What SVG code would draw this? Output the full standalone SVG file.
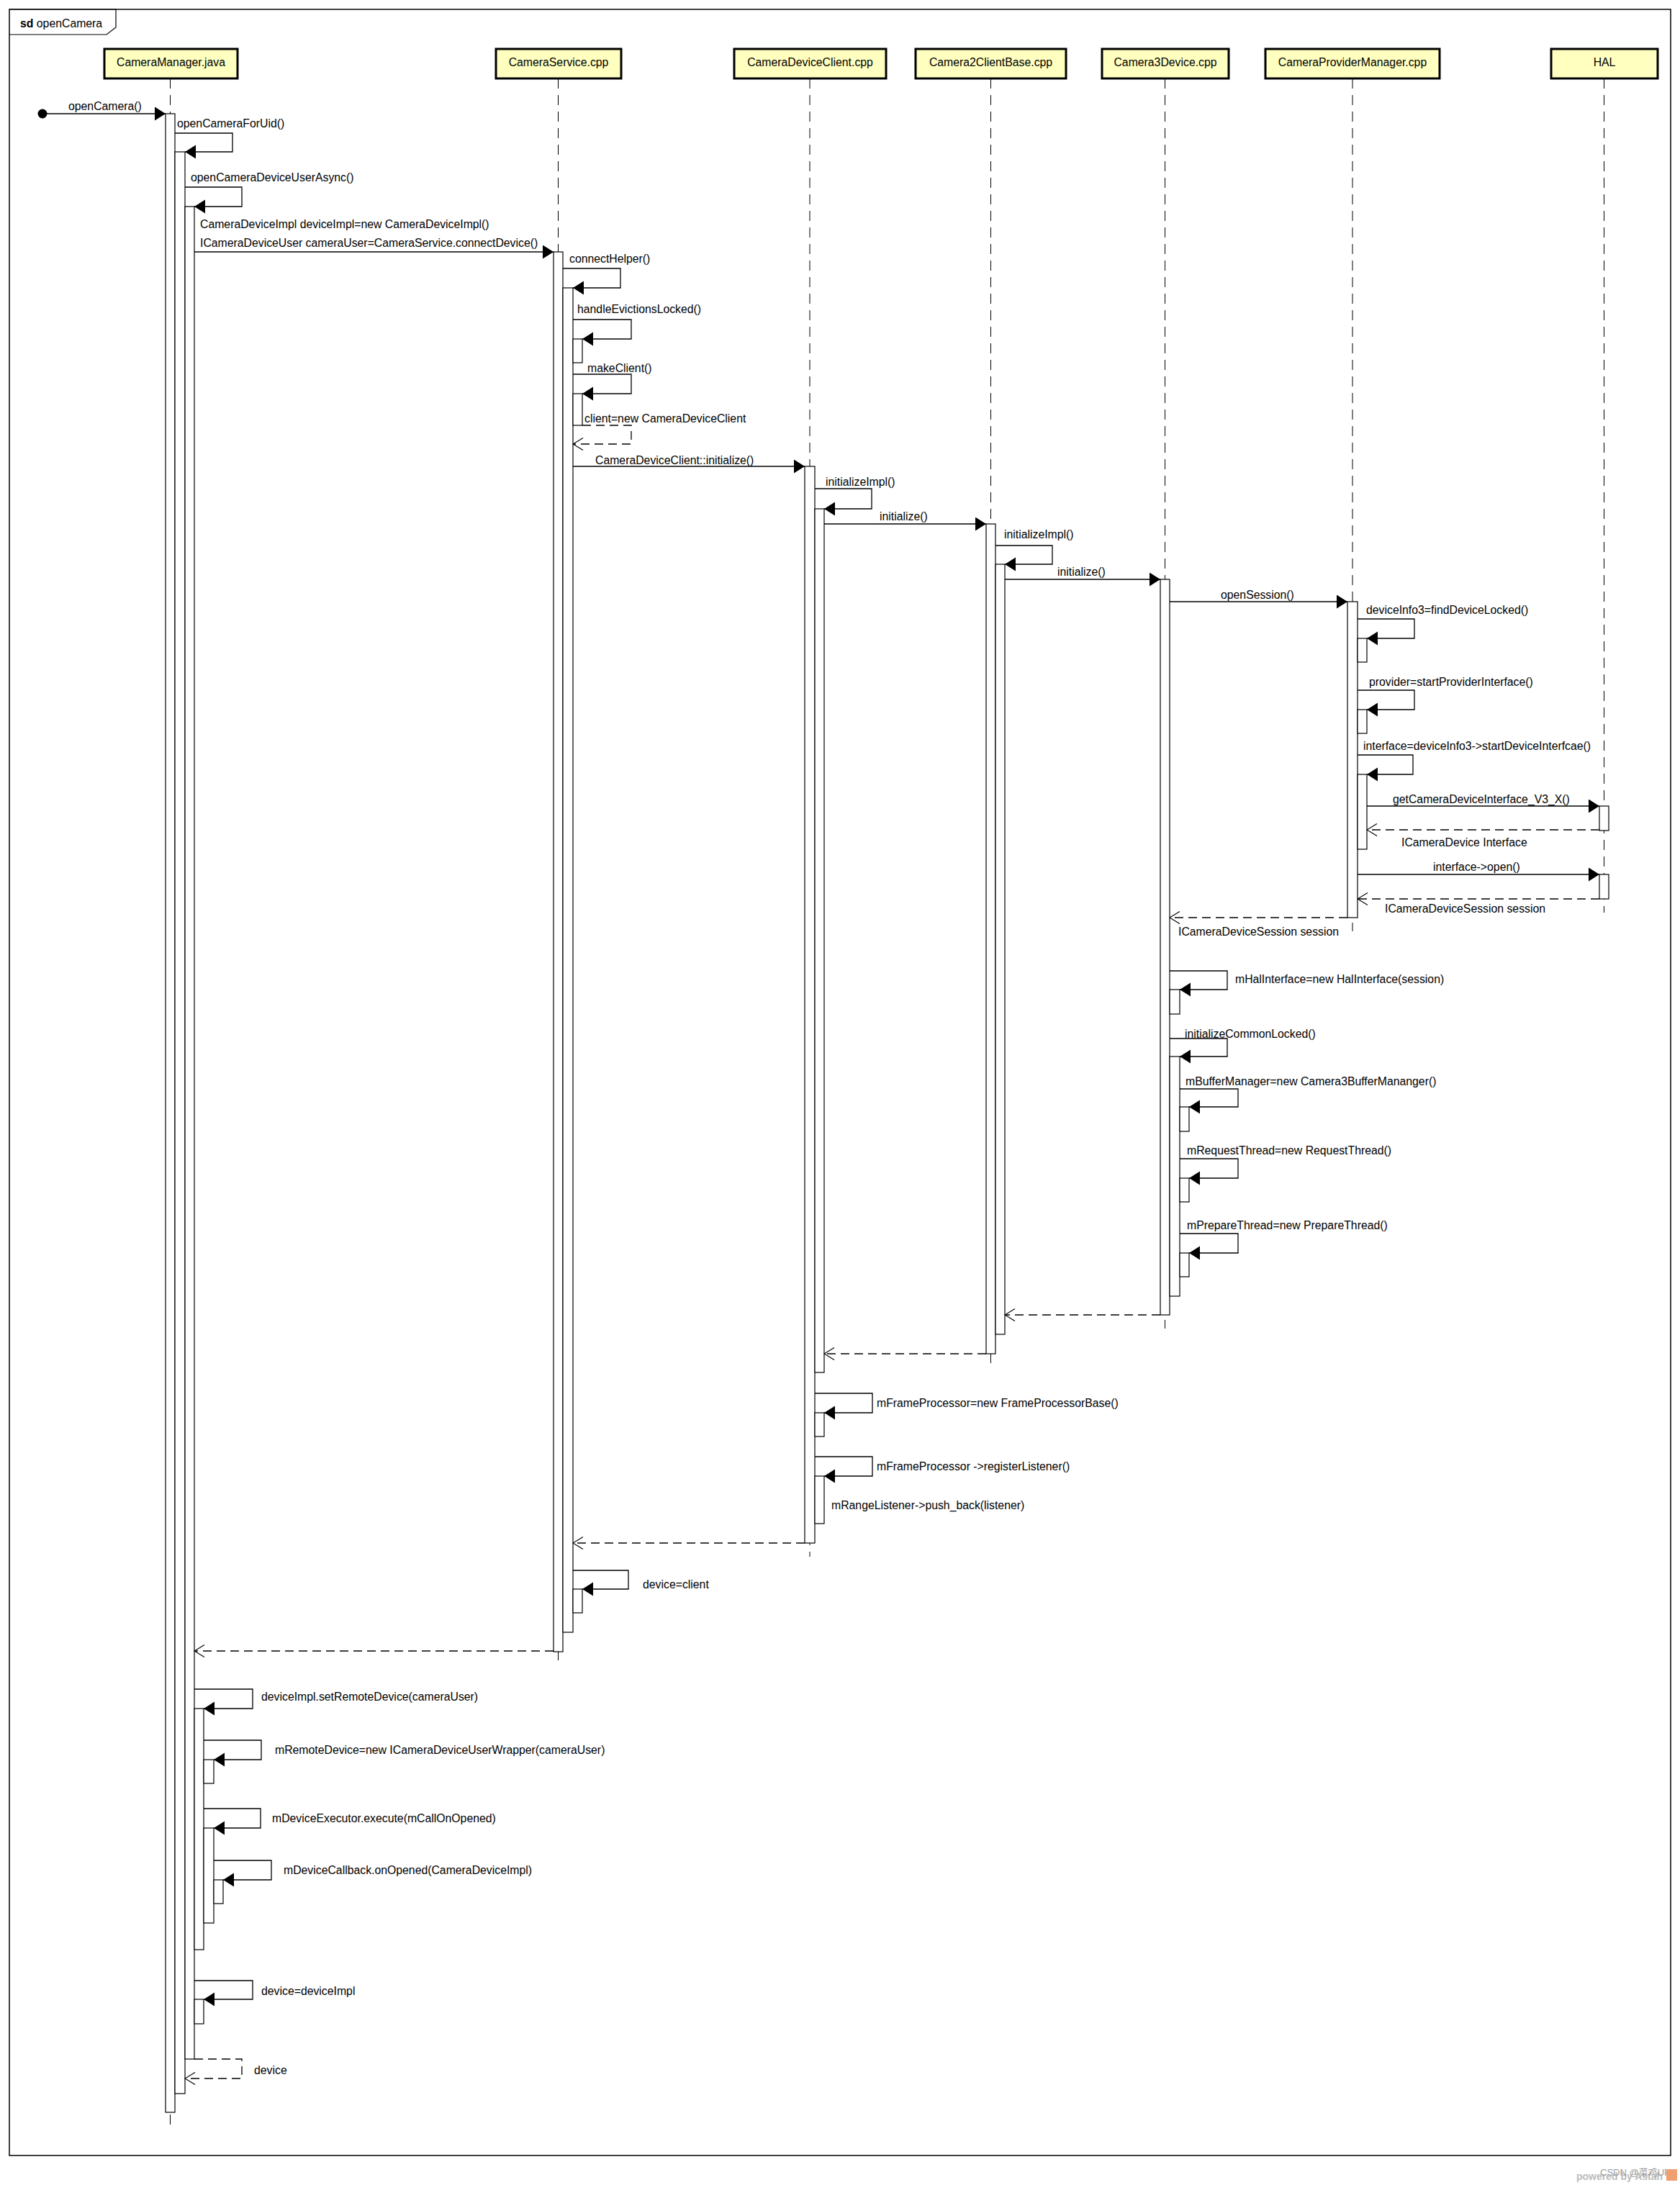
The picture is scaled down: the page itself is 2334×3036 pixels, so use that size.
<svg xmlns="http://www.w3.org/2000/svg" width="2334" height="3036" viewBox="0 0 2334 3036">
<style>
text{font-family:"Liberation Sans",Arial,sans-serif;font-size:15.8px;fill:#000}
.hd text{text-anchor:middle}
.head{fill:#ffffc0;stroke:#000;stroke-width:3}
.life{stroke:#000;stroke-width:1;stroke-dasharray:14 9;fill:none}
.act{fill:#fff;stroke:#000;stroke-width:1.2}
.msg{fill:none;stroke:#000;stroke-width:1.3}
.sync{marker-end:url(#filled)}
.ret{stroke-dasharray:12 7;marker-end:url(#open)}
.wm{font-size:13px;fill:#999}
</style>
<defs>
<marker id="filled" markerUnits="userSpaceOnUse" markerWidth="16" markerHeight="20" refX="15" refY="9.5" orient="auto">
<path d="M0,0 L15,9.5 L0,19 z" fill="#000" stroke="none"/>
</marker>
<marker id="open" markerUnits="userSpaceOnUse" markerWidth="16" markerHeight="20" refX="14.5" refY="9" orient="auto">
<path d="M0.5,0.5 L14.5,9 L0.5,17.5" fill="none" stroke="#000" stroke-width="1.2" stroke-dasharray="none"/>
</marker>
</defs>
<rect width="2334" height="3036" fill="#fff"/>

<g id="frame">
<rect x="13" y="13" width="2308" height="2982" fill="none" stroke="#000" stroke-width="1.5"/>
<path d="M13,13 H161 V38 L148,48 H13" fill="none" stroke="#000" stroke-width="1.2"/>
<text x="28" y="38"><tspan font-weight="bold">sd</tspan> openCamera</text>
</g>

<g id="CameraManager" class="hd">
<line class="life" x1="236.5" y1="109" x2="236.5" y2="2955"/>
<rect class="head" x="145" y="68" width="185" height="41"/>
<text x="237.5" y="92">CameraManager.java</text>
<rect class="act" x="230" y="158" width="13" height="2777"/>
<rect class="act" x="243" y="211" width="14" height="2698"/>
<rect class="act" x="257" y="287" width="13" height="2574"/>
<rect class="act" x="270" y="2374" width="13" height="335"/>
<rect class="act" x="283" y="2445" width="14" height="33"/>
<rect class="act" x="283" y="2540" width="14" height="132"/>
<rect class="act" x="297" y="2612" width="13" height="33"/>
<rect class="act" x="270" y="2778" width="13" height="34"/>
</g>

<g id="CameraService" class="hd">
<line class="life" x1="775.5" y1="109" x2="775.5" y2="2307"/>
<rect class="head" x="689" y="68" width="174" height="41"/>
<text x="776" y="92">CameraService.cpp</text>
<rect class="act" x="769" y="350" width="13" height="1945"/>
<rect class="act" x="782" y="400" width="14" height="1868"/>
<rect class="act" x="796" y="471" width="13" height="33"/>
<rect class="act" x="796" y="547" width="13" height="44"/>
<rect class="act" x="796" y="2208" width="13" height="33"/>
</g>

<g id="CameraDeviceClient" class="hd">
<line class="life" x1="1125" y1="109" x2="1125" y2="2163"/>
<rect class="head" x="1020" y="68" width="211" height="41"/>
<text x="1125.5" y="92">CameraDeviceClient.cpp</text>
<rect class="act" x="1118" y="648" width="14" height="1496"/>
<rect class="act" x="1132" y="707" width="13" height="1200"/>
<rect class="act" x="1132" y="1963" width="13" height="33"/>
<rect class="act" x="1132" y="2051" width="13" height="66"/>
</g>

<g id="Camera2ClientBase" class="hd">
<line class="life" x1="1376.5" y1="109" x2="1376.5" y2="1899"/>
<rect class="head" x="1272" y="68" width="209" height="41"/>
<text x="1376.5" y="92">Camera2ClientBase.cpp</text>
<rect class="act" x="1370" y="728" width="13" height="1153"/>
<rect class="act" x="1383" y="784" width="13" height="1070"/>
</g>

<g id="Camera3Device" class="hd">
<line class="life" x1="1618.5" y1="109" x2="1618.5" y2="1846"/>
<rect class="head" x="1531" y="68" width="176" height="41"/>
<text x="1619" y="92">Camera3Device.cpp</text>
<rect class="act" x="1612" y="805" width="13" height="1022"/>
<rect class="act" x="1625" y="1375" width="14" height="34"/>
<rect class="act" x="1625" y="1468" width="14" height="333"/>
<rect class="act" x="1639" y="1538" width="13" height="34"/>
<rect class="act" x="1639" y="1637" width="13" height="33"/>
<rect class="act" x="1639" y="1741" width="13" height="33"/>
</g>

<g id="CameraProviderManager" class="hd">
<line class="life" x1="1879" y1="109" x2="1879" y2="1294"/>
<rect class="head" x="1758" y="68" width="242" height="41"/>
<text x="1879" y="92">CameraProviderManager.cpp</text>
<rect class="act" x="1872" y="836" width="14" height="439"/>
<rect class="act" x="1886" y="887" width="13" height="33"/>
<rect class="act" x="1886" y="986" width="13" height="33"/>
<rect class="act" x="1886" y="1076" width="13" height="104"/>
</g>

<g id="HAL" class="hd">
<line class="life" x1="2228.5" y1="109" x2="2228.5" y2="1268"/>
<rect class="head" x="2155" y="68" width="148" height="41"/>
<text x="2229" y="92">HAL</text>
<rect class="act" x="2222" y="1120" width="13" height="34"/>
<rect class="act" x="2222" y="1215" width="13" height="34"/>
</g>

<g id="connectors">
<circle cx="59" cy="158" r="6.5" fill="#000"/>
<path class="msg sync" d="M59,158 H230"/>
<text x="95" y="153">openCamera()</text>

<path class="msg sync" d="M243,185 H323 V211 H257"/>
<text x="246" y="177">openCameraForUid()</text>
<path class="msg sync" d="M257,260 H336 V287 H270"/>
<text x="265" y="252">openCameraDeviceUserAsync()</text>
<text x="278" y="317">CameraDeviceImpl deviceImpl=new CameraDeviceImpl()</text>
<path class="msg sync" d="M270,350 H769"/>
<text x="278" y="343">ICameraDeviceUser cameraUser=CameraService.connectDevice()</text>

<path class="msg sync" d="M782,373 H862 V400 H796"/>
<text x="791" y="365">connectHelper()</text>
<path class="msg sync" d="M796,444 H877 V471 H809"/>
<text x="802" y="435">handleEvictionsLocked()</text>
<path class="msg sync" d="M796,520 H877 V547 H809"/>
<text x="816" y="517">makeClient()</text>
<path class="msg ret" d="M809,591 H877 V617 H796"/>
<text x="812" y="587">client=new CameraDeviceClient</text>
<path class="msg sync" d="M796,648 H1118"/>
<text x="827" y="645">CameraDeviceClient::initialize()</text>

<path class="msg sync" d="M1132,679 H1211 V707 H1145"/>
<text x="1147" y="675">initializeImpl()</text>
<path class="msg sync" d="M1145,728 H1370"/>
<text x="1222" y="723">initialize()</text>
<path class="msg sync" d="M1383,758 H1462 V784 H1396"/>
<text x="1395" y="748">initializeImpl()</text>
<path class="msg sync" d="M1396,805 H1612"/>
<text x="1469" y="800">initialize()</text>

<path class="msg sync" d="M1625,836 H1872"/>
<text x="1696" y="832">openSession()</text>
<path class="msg sync" d="M1886,860 H1965 V887 H1899"/>
<text x="1898" y="853">deviceInfo3=findDeviceLocked()</text>
<path class="msg sync" d="M1886,959 H1965 V986 H1899"/>
<text x="1902" y="953">provider=startProviderInterface()</text>
<path class="msg sync" d="M1886,1049 H1963 V1076 H1899"/>
<text x="1894" y="1042">interface=deviceInfo3-&gt;startDeviceInterfcae()</text>
<path class="msg sync" d="M1899,1120 H2222"/>
<text x="1935" y="1116">getCameraDeviceInterface_V3_X()</text>
<path class="msg ret" d="M2222,1153 H1899"/>
<text x="1947" y="1176">ICameraDevice Interface</text>
<path class="msg sync" d="M1886,1215 H2222"/>
<text x="1991" y="1210">interface-&gt;open()</text>
<path class="msg ret" d="M2222,1249 H1886"/>
<text x="1924" y="1268">ICameraDeviceSession session</text>
<path class="msg ret" d="M1872,1275 H1625"/>
<text x="1637" y="1300">ICameraDeviceSession session</text>

<path class="msg sync" d="M1625,1349 H1705 V1375 H1639"/>
<text x="1716" y="1366">mHalInterface=new HalInterface(session)</text>
<path class="msg sync" d="M1625,1443 H1705 V1468 H1639"/>
<text x="1646" y="1442">initializeCommonLocked()</text>
<path class="msg sync" d="M1639,1513 H1720 V1538 H1652"/>
<text x="1647" y="1508">mBufferManager=new Camera3BufferMananger()</text>
<path class="msg sync" d="M1639,1610 H1720 V1637 H1652"/>
<text x="1649" y="1604">mRequestThread=new RequestThread()</text>
<path class="msg sync" d="M1639,1714 H1720 V1741 H1652"/>
<text x="1649" y="1708">mPrepareThread=new PrepareThread()</text>
<path class="msg ret" d="M1612,1827 H1396"/>
<path class="msg ret" d="M1370,1881 H1145"/>

<path class="msg sync" d="M1132,1936 H1212 V1963 H1145"/>
<text x="1218" y="1955">mFrameProcessor=new FrameProcessorBase()</text>
<path class="msg sync" d="M1132,2024 H1212 V2051 H1145"/>
<text x="1218" y="2043">mFrameProcessor -&gt;registerListener()</text>
<text x="1155" y="2097">mRangeListener-&gt;push_back(listener)</text>
<path class="msg ret" d="M1118,2144 H796"/>
<path class="msg sync" d="M796,2182 H873 V2208 H809"/>
<text x="893" y="2207">device=client</text>
<path class="msg ret" d="M769,2294 H270"/>

<path class="msg sync" d="M270,2347 H351 V2374 H283"/>
<text x="363" y="2363">deviceImpl.setRemoteDevice(cameraUser)</text>
<path class="msg sync" d="M283,2418 H363 V2445 H297"/>
<text x="382" y="2437">mRemoteDevice=new ICameraDeviceUserWrapper(cameraUser)</text>
<path class="msg sync" d="M283,2513 H362 V2540 H297"/>
<text x="378" y="2532">mDeviceExecutor.execute(mCallOnOpened)</text>
<path class="msg sync" d="M297,2585 H377 V2612 H310"/>
<text x="394" y="2604">mDeviceCallback.onOpened(CameraDeviceImpl)</text>
<path class="msg sync" d="M270,2752 H351 V2778 H283"/>
<text x="363" y="2772">device=deviceImpl</text>
<path class="msg ret" d="M270,2861 H336 V2888 H257"/>
<text x="353" y="2882">device</text>
</g>

<g id="watermark">
<text class="wm" x="2190" y="3029" font-weight="bold" style="fill:#bbb;font-size:14px">powered by Astah</text>
<text class="wm" x="2223" y="3023" style="font-family:'Liberation Sans','Noto Sans CJK SC',sans-serif">CSDN @菜鸡UP</text>
<rect x="2315" y="3014" width="15" height="16" fill="#f0a070"/>
</g>
</svg>
